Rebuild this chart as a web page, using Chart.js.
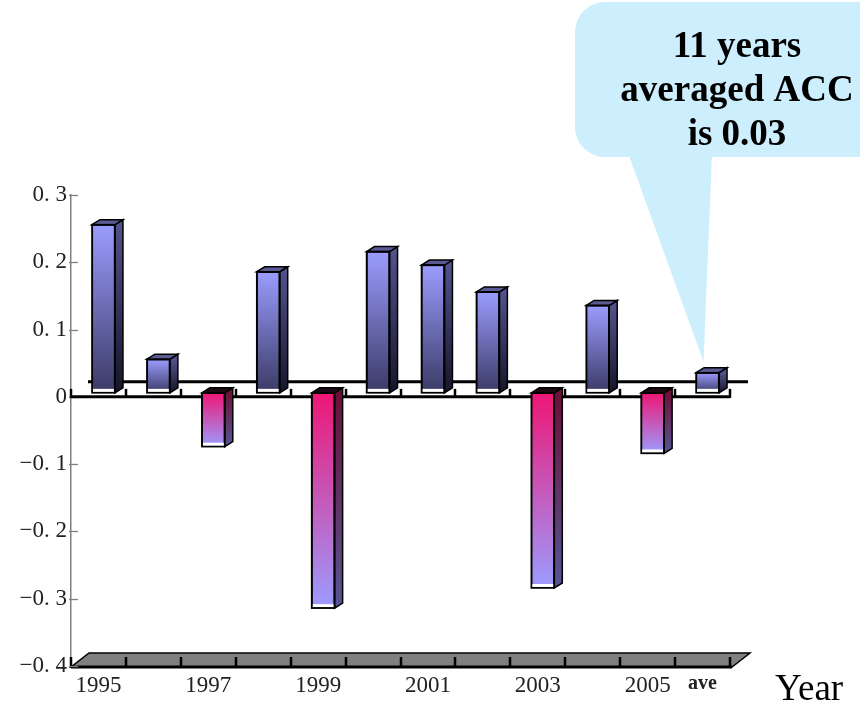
<!DOCTYPE html>
<html>
<head>
<meta charset="utf-8">
<script src="https://cdn.jsdelivr.net/npm/chart.js@4/dist/chart.umd.min.js"></script>
<style>
  html, body { margin: 0; padding: 0; background: #ffffff; }
  canvas { display: block; }
</style>
</head>
<body>
<canvas id="acc" width="860" height="704"></canvas>
<script>
// Yearly anomaly correlation (ACC) plus the 11-year average
const categories = ['1995', '1996', '1997', '1998', '1999', '2000', '2001', '2002', '2003', '2004', '2005', 'ave'];
const accValues = [0.25, 0.05, -0.08, 0.18, -0.32, 0.21, 0.19, 0.15, -0.29, 0.13, -0.09, 0.03];
const xTickLabels = ['1995', '', '1997', '', '1999', '', '2001', '', '2003', '', '2005', 'ave'];
const yTickValues = [-0.4, -0.3, -0.2, -0.1, 0, 0.1, 0.2, 0.3];
const yTickLabels = ['\u22120. 4', '\u22120. 3', '\u22120. 2', '\u22120. 1', '0', '0. 1', '0. 2', '0. 3'];
const calloutLines = ['11 years', 'averaged ACC', 'is 0.03'];
const axisTitle = 'Year';

// pseudo-3D extrusion of the bars and of the floor
const DEPTH = { dx: 8, dy: -5 };
const BAR_SHIFT = { x: 5, y: -4 };
const FLOOR = { dx: 18, dy: -14 };
const SERIF = '"Liberation Serif", "Times New Roman", serif';

function frontFill(ctx) {
  const chart = ctx.chart;
  const area = chart.chartArea;
  const v = accValues[ctx.dataIndex];
  if (!area) return v >= 0 ? '#8080e0' : '#e0307f';
  const ys = chart.scales.y;
  const p0 = ys.getPixelForValue(0);
  const pv = ys.getPixelForValue(v);
  const g = chart.ctx.createLinearGradient(0, Math.min(p0, pv), 0, Math.max(p0, pv));
  if (v >= 0) {
    g.addColorStop(0, '#9c9cff');
    g.addColorStop(1, '#3a3a66');
  } else {
    g.addColorStop(0, '#ee1675');
    g.addColorStop(1, '#9c9cff');
  }
  return g;
}

const scenePlugin = {
  id: 'scene3d',
  beforeDatasetsDraw(chart) {
    const { ctx, chartArea: a, scales: { y } } = chart;
    const n = categories.length;
    const step = a.width / n;
    const y0 = y.getPixelForValue(0);
    const yb = a.bottom + 1;
    ctx.save();

    // grey floor
    ctx.beginPath();
    ctx.moveTo(a.left, yb);
    ctx.lineTo(a.right + 2, yb);
    ctx.lineTo(a.right + 2 + FLOOR.dx, yb + FLOOR.dy);
    ctx.lineTo(a.left + FLOOR.dx, yb + FLOOR.dy);
    ctx.closePath();
    ctx.fillStyle = '#808080';
    ctx.fill();
    ctx.lineWidth = 1.5;
    ctx.strokeStyle = '#000';
    ctx.stroke();
    ctx.lineWidth = 3;
    ctx.beginPath();
    ctx.moveTo(a.left, yb);
    ctx.lineTo(a.right + 2, yb);
    ctx.stroke();
    ctx.lineWidth = 2.5;
    for (let k = 0; k <= n; k++) {
      const xk = Math.round(a.left + k * step);
      ctx.beginPath();
      ctx.moveTo(xk, yb + 1);
      ctx.lineTo(xk, yb - 10);
      ctx.stroke();
    }

    // inward ticks on the value axis
    ctx.strokeStyle = '#808080';
    ctx.lineWidth = 1.3;
    yTickValues.forEach(v => {
      const py = Math.round(y.getPixelForValue(v)) + 0.5;
      ctx.beginPath();
      ctx.moveTo(a.left - 2, py);
      ctx.lineTo(a.left + 7, py);
      ctx.stroke();
    });

    // zero plane: back edge and front edge with category ticks
    ctx.strokeStyle = '#000';
    ctx.lineWidth = 3;
    ctx.beginPath();
    ctx.moveTo(a.left + 17, y0 - 15);
    ctx.lineTo(a.right + 18, y0 - 15);
    ctx.stroke();
    ctx.beginPath();
    ctx.moveTo(a.left, y0);
    ctx.lineTo(a.right, y0);
    ctx.stroke();
    ctx.lineWidth = 2.5;
    for (let k = 0; k <= n; k++) {
      const xk = Math.round(a.left + k * step);
      ctx.beginPath();
      ctx.moveTo(xk, y0 + 1);
      ctx.lineTo(xk, y0 - 8);
      ctx.stroke();
    }
    ctx.restore();

    ctx.save();
    ctx.translate(BAR_SHIFT.x, BAR_SHIFT.y);
  },
  afterDatasetsDraw(chart) {
    const { ctx } = chart;
    const meta = chart.getDatasetMeta(0);
    meta.data.forEach((bar, i) => {
      const { x, y, base, width } = bar.getProps(['x', 'y', 'base', 'width'], true);
      const v = accValues[i];
      const left = x - width / 2;
      const right = x + width / 2;
      const top = Math.min(y, base);
      const bottom = Math.max(y, base);

      // side face
      const sg = ctx.createLinearGradient(0, top, 0, bottom);
      if (v >= 0) {
        sg.addColorStop(0, '#52528c');
        sg.addColorStop(1, '#15152a');
      } else {
        sg.addColorStop(0, '#6c1038');
        sg.addColorStop(1, '#565694');
      }
      ctx.beginPath();
      ctx.moveTo(right, top);
      ctx.lineTo(right + DEPTH.dx, top + DEPTH.dy);
      ctx.lineTo(right + DEPTH.dx, bottom + DEPTH.dy);
      ctx.lineTo(right, bottom);
      ctx.closePath();
      ctx.fillStyle = sg;
      ctx.fill();
      ctx.lineWidth = 1.5;
      ctx.strokeStyle = '#000';
      ctx.stroke();

      // top face
      ctx.beginPath();
      ctx.moveTo(left, top);
      ctx.lineTo(left + DEPTH.dx, top + DEPTH.dy);
      ctx.lineTo(right + DEPTH.dx, top + DEPTH.dy);
      ctx.lineTo(right, top);
      ctx.closePath();
      ctx.fillStyle = v >= 0 ? '#5a5a94' : '#1c0a14';
      ctx.fill();
      ctx.stroke();

      // light rim along the lower edge of the front face
      ctx.fillStyle = '#ffffff';
      ctx.fillRect(left + 1, bottom - 4, width - 2, 3);
      ctx.strokeRect(left, top, width, bottom - top);
    });
    ctx.restore();
  },
  afterDraw(chart) {
    const { ctx } = chart;
    ctx.save();

    // speech bubble pointing at the average bar
    const bx = 575, by = 2, bw = 320, bh = 155, r = 30;
    ctx.fillStyle = '#cdeefc';
    ctx.beginPath();
    ctx.moveTo(bx + r, by);
    ctx.lineTo(bx + bw - r, by);
    ctx.arcTo(bx + bw, by, bx + bw, by + r, r);
    ctx.lineTo(bx + bw, by + bh - r);
    ctx.arcTo(bx + bw, by + bh, bx + bw - r, by + bh, r);
    ctx.lineTo(bx + r, by + bh);
    ctx.arcTo(bx, by + bh, bx, by + bh - r, r);
    ctx.lineTo(bx, by + r);
    ctx.arcTo(bx, by, bx + r, by, r);
    ctx.closePath();
    ctx.fill();
    const xs = chart.scales.x;
    const ys = chart.scales.y;
    const tipX = xs.getPixelForValue(categories.length - 1) + 1;
    const tipY = ys.getPixelForValue(accValues[accValues.length - 1]) - 15;
    ctx.beginPath();
    ctx.moveTo(628, by + bh - 4);
    ctx.lineTo(712, by + bh - 4);
    ctx.lineTo(tipX, tipY);
    ctx.closePath();
    ctx.fill();

    ctx.fillStyle = '#000';
    ctx.font = 'bold 37px ' + SERIF;
    ctx.textAlign = 'center';
    ctx.textBaseline = 'alphabetic';
    calloutLines.forEach((line, k) => {
      ctx.fillText(line, 737, 57 + k * 44);
    });

    // axis title
    ctx.font = '37px ' + SERIF;
    ctx.textAlign = 'left';
    ctx.fillText(axisTitle, 775, 700);
    ctx.restore();
  }
};

new Chart(document.getElementById('acc'), {
  type: 'bar',
  data: {
    labels: categories,
    datasets: [{
      data: accValues,
      backgroundColor: frontFill,
      borderColor: '#000000',
      borderWidth: 1.5,
      borderSkipped: false,
      barThickness: 23
    }]
  },
  options: {
    responsive: false,
    animation: false,
    devicePixelRatio: 1,
    layout: { padding: { top: 195, right: 130, left: 0, bottom: 0 } },
    plugins: {
      legend: { display: false },
      tooltip: { enabled: false }
    },
    scales: {
      x: {
        grid: { display: false, drawTicks: false },
        border: { display: false },
        afterFit: s => { s.height = 38; },
        ticks: {
          autoSkip: false,
          maxRotation: 0,
          padding: 6,
          color: '#222',
          callback: (value, index) => xTickLabels[index],
          font: c => c.index === categories.length - 1
            ? { family: SERIF, size: 20, weight: 'bold' }
            : { family: SERIF, size: 23 }
        }
      },
      y: {
        min: -0.4,
        max: 0.3,
        grid: { display: false, drawTicks: false },
        border: { display: true, color: '#808080', width: 1.5 },
        afterFit: s => { s.width = 71; },
        afterBuildTicks: s => { s.ticks = yTickValues.map(v => ({ value: v })); },
        ticks: {
          padding: 4,
          color: '#222',
          font: { family: SERIF, size: 23 },
          callback: (value, index) => yTickLabels[index]
        }
      }
    }
  },
  plugins: [scenePlugin]
});
</script>
</body>
</html>
